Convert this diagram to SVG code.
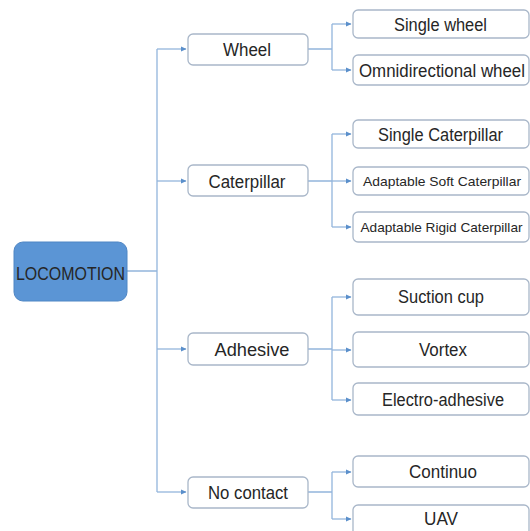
<svg xmlns="http://www.w3.org/2000/svg" width="530" height="531" viewBox="0 0 530 531">
<style>
.box{fill:#ffffff;stroke:#a9b7c9;stroke-width:1.3}
.root{fill:#5b95d5;stroke:#4f86c4;stroke-width:1}
.t{font-family:"Liberation Sans",Arial,sans-serif;font-size:17.5px;fill:#262626;text-anchor:middle}
.s{font-size:13.5px}
.c{fill:none;stroke:#93b5dc;stroke-width:1.3}
</style>
<defs>
<marker id="ah" markerWidth="6" markerHeight="6" refX="5" refY="3" orient="auto" markerUnits="userSpaceOnUse">
<path d="M0,0.5 L5.5,3 L0,5.5 Z" fill="#5a8fcb"/>
</marker>
</defs>
<g id="connectors">
<path class="c" d="M127,271 H157 M157,49 V492"/>
<path class="c" d="M157,49 H186" marker-end="url(#ah)"/>
<path class="c" d="M157,181 H186" marker-end="url(#ah)"/>
<path class="c" d="M157,349 H186" marker-end="url(#ah)"/>
<path class="c" d="M157,492 H186" marker-end="url(#ah)"/>
<path class="c" d="M308,49 H332 M332,24 V70"/>
<path class="c" d="M332,24 H351" marker-end="url(#ah)"/>
<path class="c" d="M332,70 H351" marker-end="url(#ah)"/>
<path class="c" d="M308,181 H332 M332,134 V227"/>
<path class="c" d="M332,134 H351" marker-end="url(#ah)"/>
<path class="c" d="M332,181 H351" marker-end="url(#ah)"/>
<path class="c" d="M332,227 H351" marker-end="url(#ah)"/>
<path class="c" d="M308,349 H332 M332,297 V400"/>
<path class="c" d="M332,297 H351" marker-end="url(#ah)"/>
<path class="c" d="M332,350 H351" marker-end="url(#ah)"/>
<path class="c" d="M332,400 H351" marker-end="url(#ah)"/>
<path class="c" d="M308,492 H332 M332,472 V519"/>
<path class="c" d="M332,472 H351" marker-end="url(#ah)"/>
<path class="c" d="M332,519 H351" marker-end="url(#ah)"/>
</g>
<g id="locomotion">
<rect class="root" x="14" y="242" width="113" height="59" rx="9"/>
<text class="t" x="70.5" y="279.5" font-size="19.5" textLength="109" lengthAdjust="spacingAndGlyphs" fill="#15263d">LOCOMOTION</text>
</g>
<g id="wheel">
<rect class="box" x="188" y="34" width="120" height="31" rx="5"/>
<text class="t" x="247" y="56" textLength="48" lengthAdjust="spacingAndGlyphs">Wheel</text>
</g>
<g id="caterpillar">
<rect class="box" x="188" y="165" width="120" height="31" rx="5"/>
<text class="t" x="247" y="187.5" textLength="77" lengthAdjust="spacingAndGlyphs">Caterpillar</text>
</g>
<g id="adhesive">
<rect class="box" x="188" y="333" width="120" height="32" rx="5"/>
<text class="t" x="252" y="355.5" textLength="75" lengthAdjust="spacingAndGlyphs">Adhesive</text>
</g>
<g id="nocontact">
<rect class="box" x="188" y="477" width="120" height="31" rx="5"/>
<text class="t" x="248" y="498.5" textLength="80" lengthAdjust="spacingAndGlyphs">No contact</text>
</g>
<g id="singlewheel">
<rect class="box" x="353" y="10" width="176" height="28" rx="5"/>
<text class="t" x="440.5" y="30.5" textLength="93" lengthAdjust="spacingAndGlyphs">Single wheel</text>
</g>
<g id="omniwheel">
<rect class="box" x="353" y="55" width="176" height="30" rx="5"/>
<text class="t" x="442" y="76.5" textLength="166" lengthAdjust="spacingAndGlyphs">Omnidirectional wheel</text>
</g>
<g id="singlecaterpillar">
<rect class="box" x="353" y="120" width="176" height="28" rx="5"/>
<text class="t" x="440.5" y="140.5" textLength="125" lengthAdjust="spacingAndGlyphs">Single Caterpillar</text>
</g>
<g id="softcaterpillar">
<rect class="box" x="353" y="167" width="176" height="28" rx="5"/>
<text class="t s" x="442" y="186" textLength="158" lengthAdjust="spacingAndGlyphs">Adaptable Soft Caterpillar</text>
</g>
<g id="rigidcaterpillar">
<rect class="box" x="353" y="212" width="176" height="30" rx="5"/>
<text class="t s" x="441.5" y="232" textLength="162" lengthAdjust="spacingAndGlyphs">Adaptable Rigid Caterpillar</text>
</g>
<g id="suctioncup">
<rect class="box" x="353" y="279" width="176" height="36" rx="5"/>
<text class="t" x="441" y="303" textLength="86" lengthAdjust="spacingAndGlyphs">Suction cup</text>
</g>
<g id="vortex">
<rect class="box" x="353" y="332" width="176" height="35" rx="5"/>
<text class="t" x="443" y="356" textLength="48" lengthAdjust="spacingAndGlyphs">Vortex</text>
</g>
<g id="electroadhesive">
<rect class="box" x="353" y="383" width="176" height="32" rx="5"/>
<text class="t" x="443" y="406" textLength="122" lengthAdjust="spacingAndGlyphs">Electro-adhesive</text>
</g>
<g id="continuo">
<rect class="box" x="353" y="456" width="176" height="31" rx="5"/>
<text class="t" x="443" y="478" textLength="68" lengthAdjust="spacingAndGlyphs">Continuo</text>
</g>
<g id="uav">
<rect class="box" x="353" y="505" width="176" height="36" rx="5"/>
<text class="t" x="441" y="525" textLength="34" lengthAdjust="spacingAndGlyphs">UAV</text>
</g>
</svg>
